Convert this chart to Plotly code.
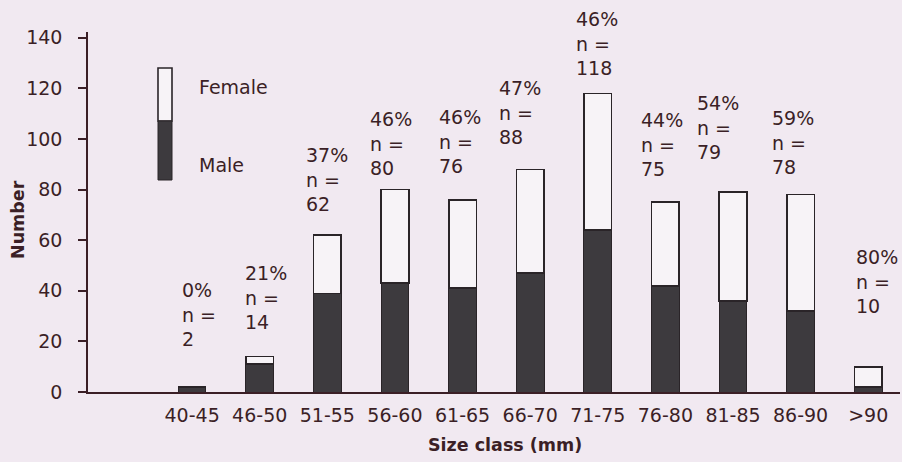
import plotly.graph_objects as go

# Size classes and counts per sex
size_classes = ["40-45", "46-50", "51-55", "56-60", "61-65", "66-70",
                "71-75", "76-80", "81-85", "86-90", ">90"]
male = [2, 11, 39, 43, 41, 47, 64, 42, 36, 32, 2]
female = [0, 3, 23, 37, 35, 41, 54, 33, 43, 46, 8]
pct_female = ["0%", "21%", "37%", "46%", "46%", "47%", "46%", "44%", "54%", "59%", "80%"]
totals = [2, 14, 62, 80, 76, 88, 118, 75, 79, 78, 10]
y_ticks = [0, 20, 40, 60, 80, 100, 120, 140]

# label placement tweaks (pixels): gap above bar top, horizontal shift from centre
label_gap = [39, 26, 22, 13, 25, 23, 16, 24, 31, 19, 52]
label_dx = [-12, -17, -23, -27, -26, -33, -24, -26, -38, -31, -14]

INK = "#3b1f26"
BG = "#f1e9f1"
FONT = "DejaVu Sans, Arial, sans-serif"
FS = 19

x = list(range(len(size_classes)))

fig = go.Figure()
fig.add_trace(go.Bar(
    x=x, y=male, name="Male", width=0.41,
    marker=dict(color="#3d3a3e", line=dict(color="#2a2428", width=1)),
))
fig.add_trace(go.Bar(
    x=x, y=female, name="Female", width=0.41,
    marker=dict(color="#f7f3f7", line=dict(color="#2a2428", width=1.6)),
))

# percentage / sample-size labels above each bar
for i, (p, n) in enumerate(zip(pct_female, totals)):
    fig.add_annotation(
        x=i, y=n, xref="x", yref="y",
        text=f"{p}<br>n =<br>{n}", showarrow=False,
        xanchor="left", yanchor="bottom", align="left",
        xshift=label_dx[i], yshift=label_gap[i] - 4,
        font=dict(family=FONT, size=FS, color=INK),
    )

# plot-area geometry (pixels) used for the legend key
L, T, W, H = 88, 32, 812, 360
def px(xp):
    return (xp - L) / W
def py(yp):
    return (T + H - yp) / H

# legend key: a small stacked bar
fig.add_shape(type="rect", xref="paper", yref="paper",
              x0=px(158), x1=px(172), y0=py(121), y1=py(68),
              fillcolor="#f7f3f7", line=dict(color="#2a2428", width=1.6))
fig.add_shape(type="rect", xref="paper", yref="paper",
              x0=px(158), x1=px(172), y0=py(180), y1=py(121),
              fillcolor="#3d3a3e", line=dict(color="#2a2428", width=1))
fig.add_annotation(x=px(197), y=py(87), xref="paper", yref="paper",
                   text="Female", showarrow=False, xanchor="left", yanchor="middle",
                   font=dict(family=FONT, size=FS, color=INK))
fig.add_annotation(x=px(197), y=py(165), xref="paper", yref="paper",
                   text="Male", showarrow=False, xanchor="left", yanchor="middle",
                   font=dict(family=FONT, size=FS, color=INK))

# axis titles
fig.add_annotation(x=px(505), y=py(445), xref="paper", yref="paper",
                   text="<b>Size class (mm)</b>", showarrow=False,
                   xanchor="center", yanchor="middle",
                   font=dict(family=FONT, size=17.5, color=INK))
fig.add_annotation(x=px(18), y=py(220), xref="paper", yref="paper",
                   text="<b>Number</b>", showarrow=False, textangle=-90,
                   xanchor="center", yanchor="middle",
                   font=dict(family=FONT, size=17.5, color=INK))

fig.update_layout(
    barmode="stack",
    width=902, height=462,
    margin=dict(l=L, r=902 - L - W, t=T, b=462 - T - H),
    paper_bgcolor=BG, plot_bgcolor=BG,
    showlegend=False,
    font=dict(family=FONT, size=FS, color=INK),
)
fig.update_xaxes(
    range=[-1.54, 10.47],
    tickmode="array", tickvals=x, ticktext=size_classes,
    showline=True, linecolor=INK, linewidth=1.5,
    showgrid=False, zeroline=False,
    ticks="", ticklabelstandoff=5,
    tickfont=dict(family=FONT, size=FS, color=INK),
)
fig.update_yaxes(
    range=[0, 142.3],
    tickmode="array", tickvals=y_ticks,
    showline=True, linecolor=INK, linewidth=1.5,
    showgrid=False, zeroline=False,
    ticks="outside", ticklen=8, tickcolor=INK, tickwidth=1.5,
    ticklabelstandoff=12,
    tickfont=dict(family=FONT, size=FS, color=INK),
)

fig.write_html("out.html")
